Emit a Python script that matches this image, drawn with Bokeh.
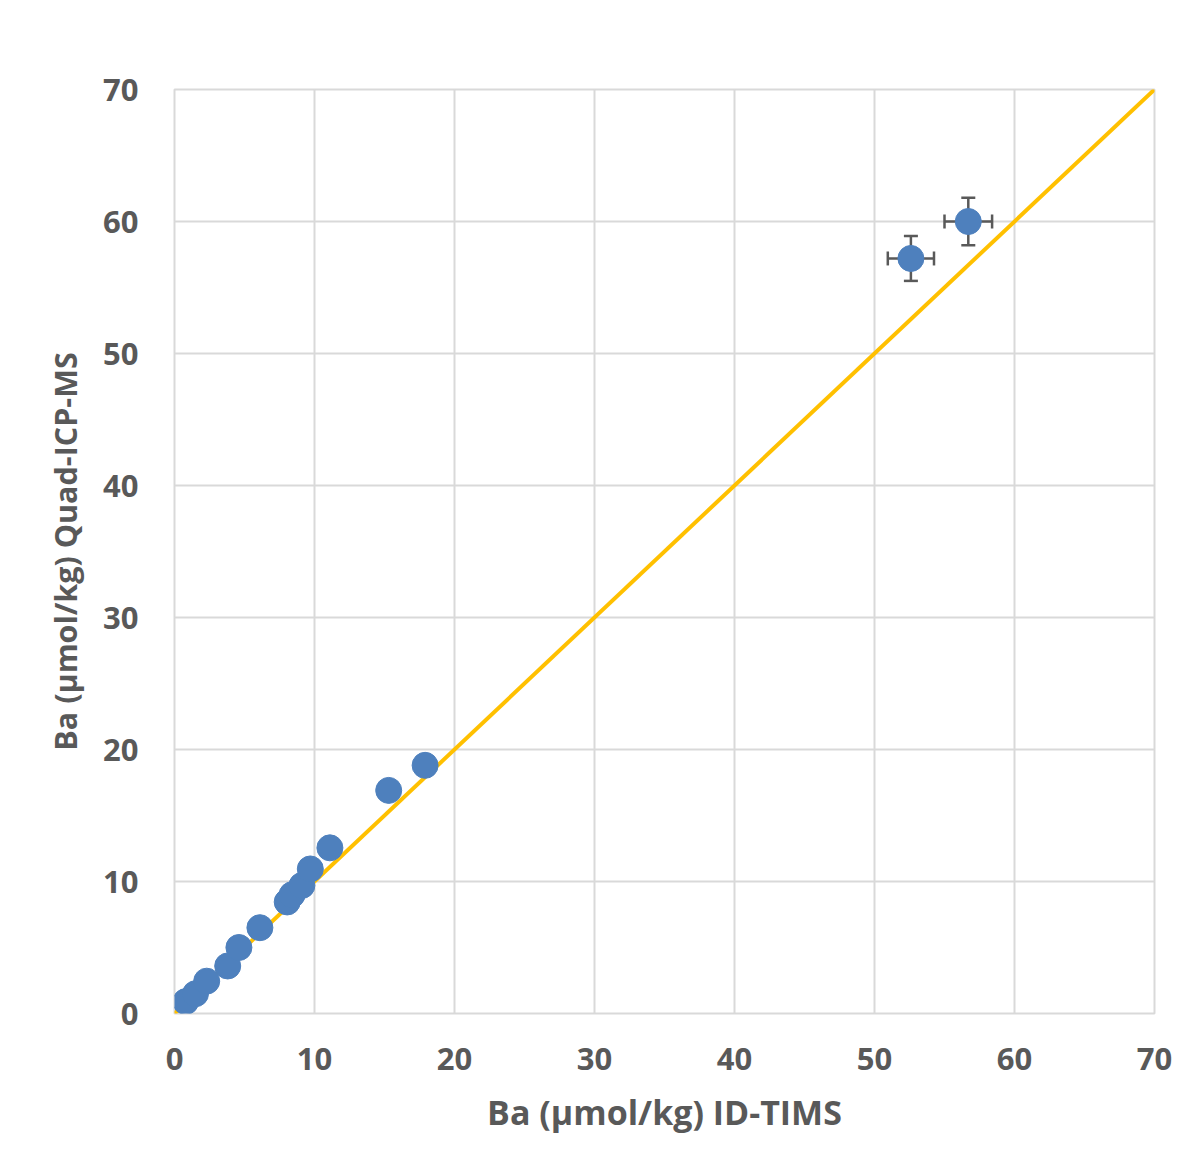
from bokeh.plotting import figure
from bokeh.models import ColumnDataSource, Whisker, TeeHead, Range1d, FixedTicker
from bokeh.embed import file_html
from bokeh.resources import INLINE

# ID-TIMS (x) vs Quad-ICP-MS (y), Ba in umol/kg
tims = [0.8, 1.5, 2.3, 3.8, 4.6, 6.1, 8.05, 8.4, 9.1, 9.7, 11.1, 15.3, 17.9]
icp = [0.9, 1.5, 2.45, 3.6, 5.0, 6.5, 8.45, 9.0, 9.7, 10.95, 12.55, 16.9, 18.8]

# points with error bars
tims_err_pts = [52.6, 56.7]
icp_err_pts = [57.2, 60.0]
tims_err = [1.65, 1.7]
icp_err = [1.7, 1.8]

# 1:1 reference line
line_x = [0, 70]
line_y = [0, 70]

x_ticks = [0, 10, 20, 30, 40, 50, 60, 70]
y_ticks = [0, 10, 20, 30, 40, 50, 60, 70]

FONT = "Open Sans"
GRAY = "#595959"
GRID = "#d9d9d9"
BLUE = "#4e80bd"
ORANGE = "#ffc000"

p = figure(width=1195, height=1160, output_backend="svg", toolbar_location=None,
           x_range=Range1d(0, 70), y_range=Range1d(0, 70),
           min_border_left=174, min_border_right=41, min_border_top=89, min_border_bottom=147)

p.xaxis.ticker = FixedTicker(ticks=x_ticks)
p.yaxis.ticker = FixedTicker(ticks=y_ticks)
for ax in (p.xaxis[0], p.yaxis[0]):
    ax.axis_line_color = None
    ax.major_tick_line_color = None
    ax.minor_tick_line_color = None
    ax.major_label_text_font = FONT
    ax.major_label_text_font_style = "bold"
    ax.major_label_text_font_size = "31px"
    ax.major_label_text_color = GRAY
    ax.axis_label_text_font = FONT
    ax.axis_label_text_font_style = "bold"
    ax.axis_label_text_color = GRAY

p.xaxis.axis_label_text_font_size = "34px"
p.yaxis.axis_label_text_font_size = "30.5px"
p.xaxis.axis_label = "Ba (µmol/kg) ID-TIMS"
p.yaxis.axis_label = "Ba (µmol/kg) Quad-ICP-MS"
p.xaxis.major_label_standoff = 28
p.yaxis.major_label_standoff = 30
p.xaxis.axis_label_standoff = 16
p.yaxis.axis_label_standoff = 14

p.xgrid.grid_line_color = GRID
p.ygrid.grid_line_color = GRID
p.xgrid.grid_line_width = 2
p.ygrid.grid_line_width = 2
p.outline_line_color = GRID
p.outline_line_width = 2
p.background_fill_color = "white"
p.border_fill_color = "white"

# 1:1 line
p.line(line_x, line_y, line_color=ORANGE, line_width=4)

# error bars
src_err = ColumnDataSource(data=dict(
    x=tims_err_pts, y=icp_err_pts,
    xl=[a - b for a, b in zip(tims_err_pts, tims_err)],
    xu=[a + b for a, b in zip(tims_err_pts, tims_err)],
    yl=[a - b for a, b in zip(icp_err_pts, icp_err)],
    yu=[a + b for a, b in zip(icp_err_pts, icp_err)],
))
for dim, base, lo, hi in (("height", "x", "yl", "yu"), ("width", "y", "xl", "xu")):
    w = Whisker(source=src_err, base=base, lower=lo, upper=hi, dimension=dim,
                line_color=GRAY, line_width=2.5,
                upper_head=TeeHead(size=14, line_color=GRAY, line_width=2.5),
                lower_head=TeeHead(size=14, line_color=GRAY, line_width=2.5))
    p.add_layout(w)

# points
p.scatter(tims, icp, size=26, fill_color=BLUE, line_color=BLUE, line_width=1)
p.scatter(tims_err_pts, icp_err_pts, size=26, fill_color=BLUE, line_color=BLUE, line_width=1)

open("out.html", "w").write(file_html(p, INLINE))
